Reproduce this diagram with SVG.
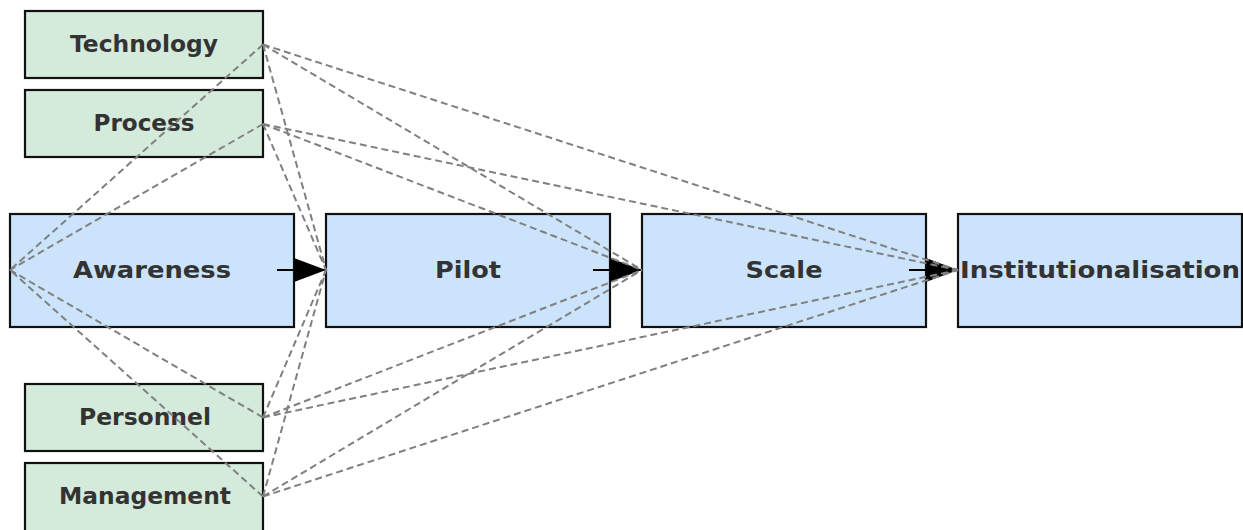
<svg xmlns="http://www.w3.org/2000/svg" width="1243" height="530" viewBox="0 0 1243 530">
  <style>
    .stage rect { fill: #cce4fb; stroke: #111; stroke-width: 2.2; }
    .factor rect { fill: #d4eadb; stroke: #111; stroke-width: 2.2; }
    text { font-family: "DejaVu Sans", "Liberation Sans", sans-serif; font-weight: bold; font-size: 23px; fill: #333; text-anchor: middle; }
    .link { stroke: #808080; stroke-width: 2; stroke-dasharray: 7 4; fill: none; }
    .flow { stroke: #000; stroke-width: 2; fill: none; }
  </style>
  <defs>
    <marker id="head" viewBox="0 0 32 24" refX="32" refY="12" markerWidth="32" markerHeight="24" markerUnits="userSpaceOnUse" orient="auto">
      <path d="M0,0 L32,12 L0,24 Z" fill="#000"/>
    </marker>
  </defs>

  <rect width="1243" height="530" fill="#fff"/>

  <!-- stage boxes -->
  <g id="awareness" class="stage">
    <rect x="10" y="214" width="284" height="113"/>
    <text x="152" y="278" textLength="158" lengthAdjust="spacingAndGlyphs">Awareness</text>
  </g>
  <g id="pilot" class="stage">
    <rect x="326" y="214" width="284" height="113"/>
    <text x="468" y="278" textLength="66" lengthAdjust="spacingAndGlyphs">Pilot</text>
  </g>
  <g id="scale" class="stage">
    <rect x="642" y="214" width="284" height="113"/>
    <text x="784" y="278" textLength="77" lengthAdjust="spacingAndGlyphs">Scale</text>
  </g>
  <g id="institutionalisation" class="stage">
    <rect x="958" y="214" width="284" height="113"/>
    <text x="1100" y="278" textLength="280" lengthAdjust="spacingAndGlyphs">Institutionalisation</text>
  </g>

  <!-- factor boxes -->
  <g id="technology" class="factor">
    <rect x="25" y="11" width="238" height="67"/>
    <text x="144" y="52" textLength="148" lengthAdjust="spacingAndGlyphs">Technology</text>
  </g>
  <g id="process" class="factor">
    <rect x="25" y="90" width="238" height="67"/>
    <text x="144" y="131" textLength="101" lengthAdjust="spacingAndGlyphs">Process</text>
  </g>
  <g id="personnel" class="factor">
    <rect x="25" y="384" width="238" height="67"/>
    <text x="145" y="425" textLength="132" lengthAdjust="spacingAndGlyphs">Personnel</text>
  </g>
  <g id="management" class="factor">
    <rect x="25" y="463" width="238" height="70"/>
    <text x="145" y="504" textLength="172" lengthAdjust="spacingAndGlyphs">Management</text>
  </g>

  <!-- connectors -->
  <g id="connectors">
    <line class="flow" x1="277" y1="270" x2="326" y2="270" marker-end="url(#head)"/>
    <line class="flow" x1="593" y1="270" x2="642" y2="270" marker-end="url(#head)"/>
    <line class="flow" x1="909" y1="270" x2="958" y2="270" marker-end="url(#head)"/>

    <!-- factor influences on every stage -->
    <line class="link" x1="263" y1="44.5" x2="10" y2="270"/>
    <line class="link" x1="263" y1="44.5" x2="326" y2="270"/>
    <line class="link" x1="263" y1="44.5" x2="642" y2="270"/>
    <line class="link" x1="263" y1="44.5" x2="958" y2="270"/>

    <line class="link" x1="263" y1="124" x2="10" y2="270"/>
    <line class="link" x1="263" y1="124" x2="326" y2="270"/>
    <line class="link" x1="263" y1="124" x2="642" y2="270"/>
    <line class="link" x1="263" y1="124" x2="958" y2="270"/>

    <line class="link" x1="263" y1="417.5" x2="10" y2="270"/>
    <line class="link" x1="263" y1="417.5" x2="326" y2="270"/>
    <line class="link" x1="263" y1="417.5" x2="642" y2="270"/>
    <line class="link" x1="263" y1="417.5" x2="958" y2="270"/>

    <line class="link" x1="263" y1="496.5" x2="10" y2="270"/>
    <line class="link" x1="263" y1="496.5" x2="326" y2="270"/>
    <line class="link" x1="263" y1="496.5" x2="642" y2="270"/>
    <line class="link" x1="263" y1="496.5" x2="958" y2="270"/>
  </g>
</svg>
